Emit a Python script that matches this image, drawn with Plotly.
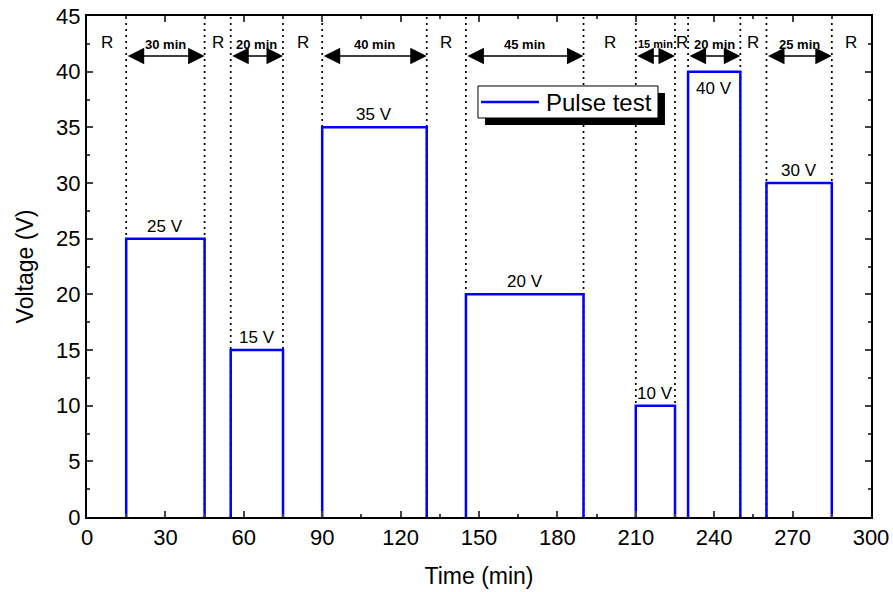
import plotly.graph_objects as go

# ---- data ----
pulse_start = [15, 55, 90, 145, 210, 230, 260]
pulse_end = [45, 75, 130, 190, 225, 250, 285]
pulse_voltage = [25, 15, 35, 20, 10, 40, 30]
voltage_labels = ["25 V", "15 V", "35 V", "20 V", "10 V", "40 V", "30 V"]
duration_labels = ["30 min", "20 min", "40 min", "45 min", "15 min", "20 min", "25 min"]
rest_start = [0, 45, 75, 130, 190, 225, 250, 285]
rest_end = [15, 55, 90, 145, 210, 230, 260, 300]
rest_label = "R"
series_name = "Pulse test"

x_ticks = [0, 30, 60, 90, 120, 150, 180, 210, 240, 270, 300]
y_ticks = [0, 5, 10, 15, 20, 25, 30, 35, 40, 45]

FONT = "Arial, Liberation Sans, sans-serif"
BLUE = "#0000FF"
ARROW_Y = 41.4
DUR_Y = 42.45
R_Y = 42.6

# pulse rectangles
px, py = [], []
for s, e, v in zip(pulse_start, pulse_end, pulse_voltage):
    px += [s, s, e, e, None]
    py += [0, v, v, 0, None]

# dotted boundaries
dx, dy = [], []
for s, e in zip(pulse_start, pulse_end):
    for b in (s, e):
        dx += [b, b, None]
        dy += [0, 45, None]

fig = go.Figure()
fig.add_trace(go.Scatter(x=dx, y=dy, mode="lines",
                         line=dict(color="black", width=1.7, dash="2px,4px"),
                         showlegend=False, hoverinfo="skip"))
fig.add_trace(go.Scatter(x=px, y=py, mode="lines", name=series_name,
                         line=dict(color=BLUE, width=2.5), showlegend=False))

ann = []
for s, e, v, lab, d in zip(pulse_start, pulse_end, pulse_voltage, voltage_labels, duration_labels):
    mid = (s + e) / 2
    inside = v >= 40
    ann.append(dict(x=mid, y=v, text=lab, showarrow=False,
                    yanchor="top" if inside else "bottom",
                    yshift=-5 if inside else 1,
                    font=dict(family=FONT, size=17, color="black")))
    ann.append(dict(x=e, y=ARROW_Y, ax=s, ay=ARROW_Y, axref="x", ayref="y",
                    xref="x", yref="y", text="", showarrow=True,
                    arrowside="end+start", arrowhead=2, arrowsize=2.2,
                    arrowwidth=1.5, arrowcolor="black", standoff=0, startstandoff=0))
    ann.append(dict(x=mid, y=DUR_Y, text="<b>%s</b>" % d, showarrow=False,
                    font=dict(family=FONT, size=11 if (e - s) <= 15 else 13, color="black")))
for s, e in zip(rest_start, rest_end):
    ann.append(dict(x=(s + e) / 2, y=R_Y, text=rest_label, showarrow=False,
                    font=dict(family=FONT, size=17, color="black")))

# manual legend (box with drop shadow)
ann.append(dict(xref="paper", yref="paper", x=0.583, y=0.8283, xanchor="left",
                yanchor="middle", text=series_name, showarrow=False,
                font=dict(family=FONT, size=24, color="black")))
shapes = [
    dict(type="rect", xref="paper", yref="paper", x0=0.5077, x1=0.7372,
         y0=0.7824, y1=0.8463, fillcolor="black", line=dict(width=0), layer="above"),
    dict(type="rect", xref="paper", yref="paper", x0=0.4987, x1=0.7283,
         y0=0.7964, y1=0.8603, fillcolor="white", line=dict(color="black", width=1),
         layer="above"),
    dict(type="line", xref="paper", yref="paper", x0=0.5026, x1=0.5765,
         y0=0.8283, y1=0.8283, line=dict(color=BLUE, width=2.5), layer="above"),
]

fig.update_layout(
    width=893, height=592,
    margin=dict(l=87, r=22, t=16, b=75),
    plot_bgcolor="white", paper_bgcolor="white",
    font=dict(family=FONT, size=21, color="black"),
    annotations=ann,
    shapes=shapes,
    showlegend=False,
)
fig.update_xaxes(range=[0, 300], tickvals=x_ticks, ticks="inside", ticklen=6, tickwidth=1.5,
                 showline=True, linewidth=2, linecolor="black", mirror="allticks",
                 showgrid=False, zeroline=False, automargin=False,
                 minor=dict(dtick=15, ticks="inside", ticklen=3, tickwidth=1.5),
                 title=dict(text="Time (min)", font=dict(size=23), standoff=18),
                 tickfont=dict(size=22))
fig.update_yaxes(range=[0, 45], tickvals=y_ticks, ticks="inside", ticklen=6, tickwidth=1.5,
                 showline=True, linewidth=2, linecolor="black", mirror="allticks",
                 showgrid=False, zeroline=False, automargin=False,
                 minor=dict(dtick=2.5, ticks="inside", ticklen=3, tickwidth=1.5),
                 title=dict(text="Voltage (V)", font=dict(size=23), standoff=16),
                 tickfont=dict(size=22))

fig.write_html("out.html")
